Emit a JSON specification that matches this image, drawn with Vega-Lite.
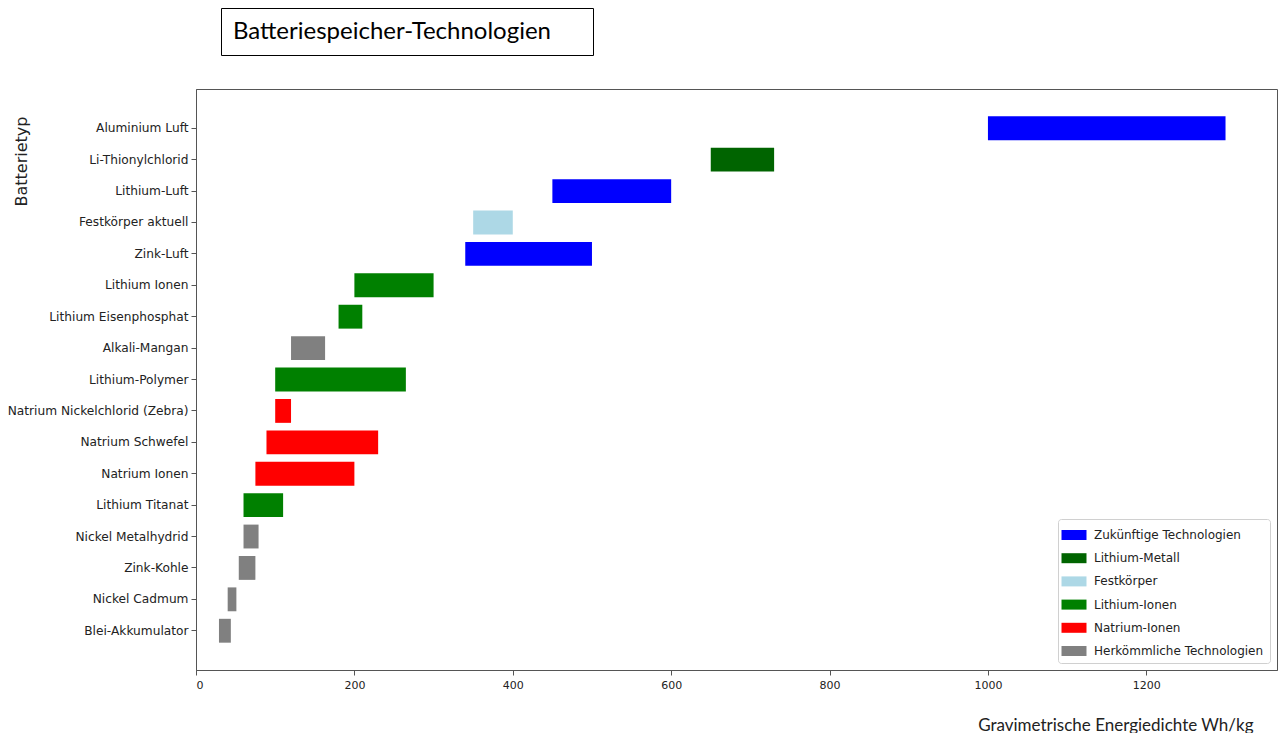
{
  "$schema": "https://vega.github.io/schema/vega-lite/v6.json",
  "background": "white",
  "padding": {"left": 6, "top": 7, "right": 0, "bottom": 0},
  "config": {"font": "DejaVu Sans", "view": {"stroke": null}},
  "spacing": 32,
  "resolve": {"legend": {"color": "independent"}},
  "vconcat": [
    {
      "spacing": 0,
      "hconcat": [
        {
          "width": 24,
          "height": 47,
          "data": {"values": [{"leer": ""}]},
          "mark": {"type": "text"},
          "encoding": {"text": {"field": "leer"}}
        },
        {
          "width": 372,
          "height": 47,
          "view": {"stroke": "black", "strokeWidth": 1},
          "data": {"values": [{"title": "Batteriespeicher-Technologien"}]},
          "mark": {"type": "text", "font": "Lato", "fontSize": 24, "align": "left", "baseline": "middle", "color": "black"},
          "encoding": {
            "text": {"field": "title"},
            "x": {"datum": 0.032, "type": "quantitative", "scale": {"domain": [0, 1]}, "axis": null},
            "y": {"datum": 0.5, "type": "quantitative", "scale": {"domain": [0, 1]}, "axis": null}
          }
        }
      ]
    },
    {
      "width": 1081,
      "height": 581,
      "view": {"stroke": "#555", "strokeWidth": 1},
      "data": {"values": [
        {"typ": "Aluminium Luft", "min": 1000, "max": 1300, "gruppe": "Zukünftige Technologien"},
        {"typ": "Li-Thionylchlorid", "min": 650, "max": 730, "gruppe": "Lithium-Metall"},
        {"typ": "Lithium-Luft", "min": 450, "max": 600, "gruppe": "Zukünftige Technologien"},
        {"typ": "Festkörper aktuell", "min": 350, "max": 400, "gruppe": "Festkörper"},
        {"typ": "Zink-Luft", "min": 340, "max": 500, "gruppe": "Zukünftige Technologien"},
        {"typ": "Lithium Ionen", "min": 200, "max": 300, "gruppe": "Lithium-Ionen"},
        {"typ": "Lithium Eisenphosphat", "min": 180, "max": 210, "gruppe": "Lithium-Ionen"},
        {"typ": "Alkali-Mangan", "min": 120, "max": 163, "gruppe": "Herkömmliche Technologien"},
        {"typ": "Lithium-Polymer", "min": 100, "max": 265, "gruppe": "Lithium-Ionen"},
        {"typ": "Natrium Nickelchlorid (Zebra)", "min": 100, "max": 120, "gruppe": "Natrium-Ionen"},
        {"typ": "Natrium Schwefel", "min": 89, "max": 230, "gruppe": "Natrium-Ionen"},
        {"typ": "Natrium Ionen", "min": 75, "max": 200, "gruppe": "Natrium-Ionen"},
        {"typ": "Lithium Titanat", "min": 60, "max": 110, "gruppe": "Lithium-Ionen"},
        {"typ": "Nickel  Metalhydrid", "min": 60, "max": 79, "gruppe": "Herkömmliche Technologien"},
        {"typ": "Zink-Kohle", "min": 54, "max": 75, "gruppe": "Herkömmliche Technologien"},
        {"typ": "Nickel Cadmum", "min": 40, "max": 51, "gruppe": "Herkömmliche Technologien"},
        {"typ": "Blei-Akkumulator", "min": 29, "max": 44, "gruppe": "Herkömmliche Technologien"}
      ]},
      "mark": {"type": "bar"},
      "encoding": {
        "y": {
          "field": "typ", "type": "nominal", "sort": null,
          "scale": {"paddingInner": 0.24, "paddingOuter": 0.87},
          "axis": {
            "title": "Batterietyp", "titleFont": "DejaVu Sans", "titleFontSize": 16, "titleFontWeight": "normal",
            "titleColor": "#222", "titleAngle": -90, "titleAlign": "center", "titleBaseline": "top",
            "titleX": -183, "titleY": 72,
            "labelFontSize": 12.2, "labelColor": "#222", "labelPadding": 3, "labelLimit": 300,
            "tickSize": 5, "tickColor": "#555", "domainColor": "#555", "grid": false
          }
        },
        "x": {
          "field": "min", "type": "quantitative",
          "scale": {"domain": [0, 1365], "nice": false, "zero": true},
          "axis": {
            "title": "Gravimetrische Energiedichte  Wh/kg", "titleFont": "Lato", "titleFontSize": 17,
            "titleFontWeight": "normal", "titleColor": "#222", "titleAlign": "right", "titleBaseline": "middle",
            "titleX": 1057, "titleY": 55,
            "values": [0, 200, 400, 600, 800, 1000, 1200], "format": "d",
            "labelFontSize": 11, "labelColor": "#222", "labelPadding": 4,
            "tickSize": 5, "tickColor": "#555", "domainColor": "#555", "grid": false
          }
        },
        "x2": {"field": "max"},
        "color": {
          "field": "gruppe", "type": "nominal",
          "scale": {
            "domain": ["Zukünftige Technologien", "Lithium-Metall", "Festkörper", "Lithium-Ionen", "Natrium-Ionen", "Herkömmliche Technologien"],
            "range": ["#0000ff", "#006400", "#add8e6", "#008000", "#ff0000", "#808080"]
          },
          "legend": {
            "title": null, "orient": "bottom-right", "offset": 7,
            "fillColor": "white", "strokeColor": "#d0d0d0", "cornerRadius": 3, "padding": 6,
            "symbolType": "M-1.25,-0.5H1.25V0.5H-1.25Z", "symbolSize": 400, "symbolStrokeWidth": 0,
            "symbolOpacity": 1, "labelLimit": 300,
            "labelFont": "DejaVu Sans", "labelFontSize": 12, "labelColor": "#222", "labelOffset": 10,
            "rowPadding": 7.2
          }
        }
      }
    }
  ]
}
